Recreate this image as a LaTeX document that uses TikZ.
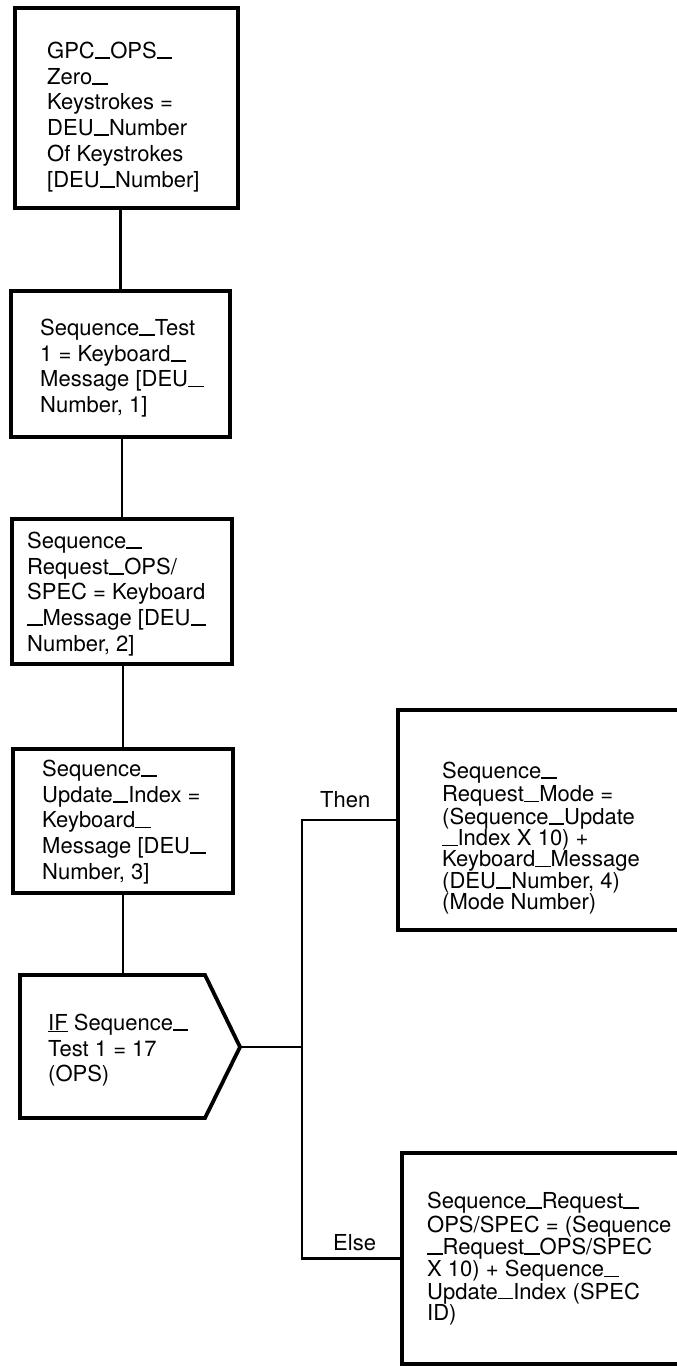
\documentclass[tikz,border=0pt]{standalone}
\usepackage{fontspec}
\setmainfont{TeX Gyre Heros}
\usetikzlibrary{calc}
% wide underscore sitting on the baseline
\newcommand\usc{\rule[-0.02em]{0.7em}{0.075em}}
\begin{document}
\begin{tikzpicture}[x=1pt,y=-1pt,
  box/.style={draw, line width=3.8pt, inner sep=0pt, outer sep=0pt, anchor=north west},
  link/.style={line width=2.2pt},
  lbl/.style={inner sep=0pt, anchor=north west, align=left, font=\fontsize{22}{25.8}\selectfont},
  lblr/.style={lbl, font=\fontsize{22}{20.8}\selectfont},
  tag/.style={inner sep=0pt, anchor=base west, font=\fontsize{22}{25.8}\selectfont}]
\useasboundingbox (0,0) rectangle (677,1366);
\fill[white] (0,0) rectangle (677,1366);
\clip (0,0) rectangle (677,1366);

% process boxes of the main column
\node[box, minimum width=223pt, minimum height=200pt] (b1) at (15,8) {};
\node[box, minimum width=219pt, minimum height=146pt] (b2) at (11,291) {};
\node[box, minimum width=220pt, minimum height=145pt] (b3) at (12,519) {};
\node[box, minimum width=220pt, minimum height=144pt] (b4) at (13,749) {};

% decision symbol
\draw[line width=3.8pt, line join=miter]
  (20,975) -- (205,975) -- (240,1047) coordinate (ifTip) -- (205,1118) -- (20,1118) -- cycle;
\coordinate (ifTop) at (123,975);
\coordinate (split) at (302,1047);

% outcome boxes (running past the page edge)
\node[box, minimum width=322pt, minimum height=220pt] (thenbox) at (398,710) {};
\node[box, minimum width=318pt, minimum height=211pt] (elsebox) at (402,1153) {};

% texts
\node[lbl] (t1) at (47,40) {\strut GPC\usc OPS\usc\\Zero\usc\\Keystrokes =\\DEU\usc Number\\Of Keystrokes\\{[}DEU\usc Number{]}};
\node[lbl] (t2) at (40,317) {\strut Sequence\usc Test\\1 = Keyboard\usc\\Message [DEU\usc\\Number, 1]};
\node[lbl] (t3) at (27,530) {\strut Sequence\usc\\Request\usc OPS/\\SPEC = Keyboard\\\usc Message [DEU\usc\\Number, 2]};
\node[lbl] (t4) at (42,758) {\strut Sequence\usc\\Update\usc Index =\\Keyboard\usc\\Message [DEU\usc\\Number, 3]};
\node[lbl] (tif) at (48,1012) {\strut\underline{IF} Sequence\usc\\Test 1 = 17\\(OPS)};
\node[lblr] (tthen) at (442,762) {\strut Sequence\usc\\Request\usc Mode =\\(Sequence\usc Update\\\usc Index X 10) +\\Keyboard\usc Message\\(DEU\usc Number, 4)\\(Mode Number)};
\node[lblr] (telse) at (427,1192) {\strut Sequence\usc Request\usc\\OPS/SPEC = (Sequence\\\usc Request\usc OPS/SPEC\\X 10) + Sequence\usc\\Update\usc Index (SPEC\\ID)};

\node[tag] (thenlbl) at (320,807) {Then};
\node[tag] (elselbl) at (333,1250) {Else};

% connectors
\draw[link] (b2.north) -- (b2.north |- b1.south);
\draw[link] (b3.north) -- (b3.north |- b2.south);
\draw[link] (b4.north) -- (b4.north |- b3.south);
\draw[link] (ifTop) -- (ifTop |- b4.south);
\draw[link] (ifTip) -- (split);
\draw[link] (thenbox.west) -| (split);
\draw[link] (elsebox.west) -| (split);
\end{tikzpicture}
\end{document}
